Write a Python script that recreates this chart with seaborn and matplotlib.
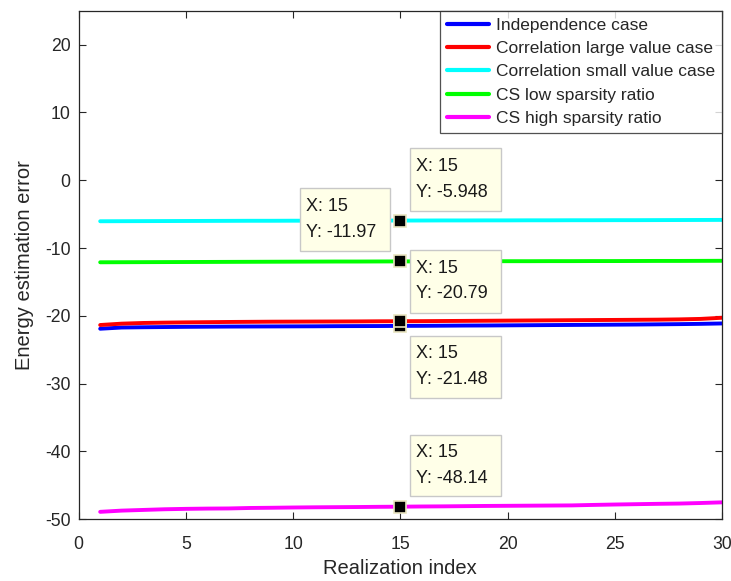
import numpy as np
import pandas as pd
import matplotlib
matplotlib.use("Agg")
import matplotlib.pyplot as plt
import seaborn as sns
from matplotlib.patches import Rectangle

# ---------------- data ----------------
realization = list(range(1, 31))
independence = [-21.90, -21.72, -21.68, -21.65, -21.62, -21.60, -21.58, -21.57, -21.56, -21.55,
                -21.54, -21.52, -21.51, -21.50, -21.48, -21.47, -21.45, -21.43, -21.42, -21.40,
                -21.38, -21.36, -21.34, -21.32, -21.30, -21.28, -21.25, -21.22, -21.18, -21.12]
corr_large = [-21.35, -21.15, -21.05, -21.00, -20.96, -20.93, -20.90, -20.88, -20.86, -20.85,
              -20.84, -20.83, -20.82, -20.80, -20.79, -20.78, -20.76, -20.74, -20.72, -20.70,
              -20.68, -20.66, -20.64, -20.62, -20.60, -20.58, -20.56, -20.52, -20.45, -20.28]
corr_small = [-6.05, -6.04, -6.03, -6.02, -6.01, -6.00, -5.99, -5.98, -5.98, -5.97,
              -5.97, -5.96, -5.96, -5.95, -5.948, -5.94, -5.93, -5.93, -5.92, -5.92,
              -5.91, -5.91, -5.90, -5.90, -5.89, -5.89, -5.88, -5.87, -5.86, -5.85]
cs_low = [-12.10, -12.09, -12.08, -12.07, -12.06, -12.05, -12.04, -12.03, -12.02, -12.01,
          -12.00, -11.99, -11.99, -11.98, -11.97, -11.97, -11.96, -11.95, -11.95, -11.94,
          -11.94, -11.93, -11.93, -11.92, -11.92, -11.91, -11.90, -11.90, -11.89, -11.88]
cs_high = [-48.90, -48.72, -48.62, -48.52, -48.46, -48.42, -48.40, -48.33, -48.30, -48.26,
           -48.23, -48.21, -48.19, -48.16, -48.14, -48.11, -48.09, -48.06, -48.03, -48.01,
           -47.99, -47.97, -47.95, -47.88, -47.82, -47.77, -47.72, -47.68, -47.60, -47.50]

series_names = ["Independence case", "Correlation large value case",
                "Correlation small value case", "CS low sparsity ratio",
                "CS high sparsity ratio"]
series_values = [independence, corr_large, corr_small, cs_low, cs_high]
colors = ["#0000FF", "#FF0000", "#00FFFF", "#00FF00", "#FF00FF"]
tip_index = 15

# ---------------- figure ----------------
sns.set_theme(style="white")
plt.rcParams["font.family"] = ["Liberation Sans", "DejaVu Sans"]
plt.rcParams["axes.unicode_minus"] = False

df = pd.DataFrame({
    "x": realization * len(series_names),
    "y": sum(series_values, []),
    "series": [n for n in series_names for _ in realization],
})

fig = plt.figure(figsize=(7.31, 5.81), dpi=100)
ax = fig.add_axes([0.1077, 0.1062, 0.8800, 0.8754])

sns.lineplot(data=df, x="x", y="y", hue="series", hue_order=series_names,
             palette=colors, linewidth=2.8, ax=ax, legend=True)

ax.set_xlim(0, 30)
ax.set_ylim(-50, 25)
ax.set_xticks([0, 5, 10, 15, 20, 25, 30])
ax.set_yticks([-50, -40, -30, -20, -10, 0, 10, 20])
ax.tick_params(direction="in", length=5, width=0.8, top=True, right=True,
               bottom=True, left=True, labelsize=12.7, colors="#262626")
ax.tick_params(axis="x", pad=12)
ax.tick_params(axis="y", pad=6)
for s in ax.spines.values():
    s.set_color("#262626")
    s.set_linewidth(0.9)
ax.set_xlabel("Realization index", fontsize=14.5, color="#262626", labelpad=4)
ax.set_ylabel("Energy estimation error", fontsize=14.5, color="#262626", labelpad=8)

# data-tip markers
for vals in series_values:
    yv = vals[realization.index(tip_index)]
    ax.plot([tip_index], [yv], marker="s", markersize=9, color="black",
            markeredgecolor="#E8E4C0", markeredgewidth=1.2, zorder=6)

# data-tip boxes (x0, x1, ytop, ybottom) in data coords
boxes = [(15.43, 19.67, -22.93, -32.06),  # independence
         (15.43, 19.67, -10.26, -19.54),  # corr large
         (15.43, 19.67, 4.76, -4.52),     # corr small
         (10.31, 14.50, -1.13, -10.41),   # cs low
         (15.43, 19.67, -37.5, -46.6)]    # cs high
for vals, (x0, x1, yt, yb) in zip(series_values, boxes):
    yv = vals[realization.index(tip_index)]
    ax.add_patch(Rectangle((x0, yb), x1 - x0, yt - yb, facecolor="#FFFFE8",
                           edgecolor="#C8C8C8", linewidth=1.0, zorder=7))
    ax.text(x0 + 0.3, (yt + yb) / 2, f"X: {tip_index}\nY: {yv:.4g}",
            ha="left", va="center", fontsize=13, linespacing=1.65,
            color="#1a1a1a", zorder=8)

leg = ax.legend(loc="upper right", fontsize=12.5, frameon=True, fancybox=False,
                borderaxespad=0.0, handlelength=2.4, handletextpad=0.4,
                labelspacing=0.47, borderpad=0.4)
leg.get_frame().set_edgecolor("#262626")
leg.get_frame().set_linewidth(0.9)
for h in leg.get_lines():
    h.set_linewidth(3)

fig.savefig("out.png", dpi=100)
